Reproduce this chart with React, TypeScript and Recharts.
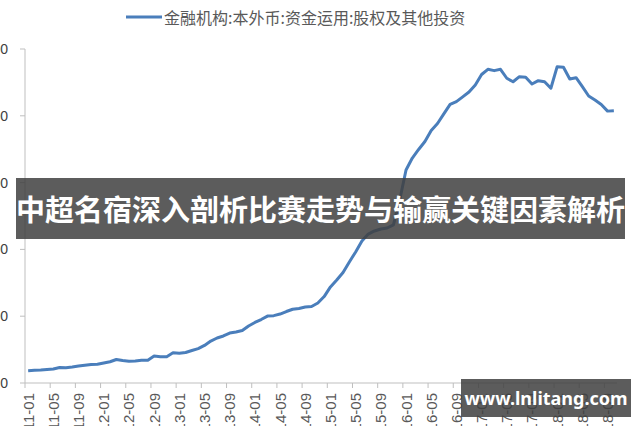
import React from 'react';
import { LineChart, Line, XAxis, YAxis } from 'recharts';

const seriesName = '金融机构:本外币:资金运用:股权及其他投资';

const years = ['2011', '2012', '2013', '2014', '2015', '2016', '2017', '2018'];
const monthNums = ['01', '02', '03', '04', '05', '06', '07', '08', '09', '10', '11', '12'];
// 2011-01 .. 2018-10
const periods = years.flatMap(y => monthNums.map(m => `${y}-${m}`)).slice(0, 94);

const equityInvest = [
  92, 95, 97, 101, 105, 116, 115, 120, 127, 133, 138, 140,
  150, 159, 176, 168, 163, 165, 170, 170, 202, 197, 197, 226,
  222, 228, 243, 257, 281, 314, 337, 352, 374, 382, 393, 427,
  453, 475, 501, 504, 516, 535, 552, 558, 569, 573, 599, 647,
  719, 771, 827, 906, 981, 1063, 1115, 1138, 1153, 1160, 1183, 1370,
  1594, 1684, 1748, 1808, 1890, 1942, 2014, 2085, 2106, 2142, 2178, 2231,
  2309, 2348, 2338, 2348, 2281, 2255, 2293, 2288, 2238, 2263, 2255, 2206,
  2368, 2363, 2275, 2285, 2218, 2148, 2118, 2085, 2035, 2038,
];

const yTicks = [0, 500, 1000, 1500, 2000, 2500];

const data = periods.map((period, i) => ({ period, value: equityInvest[i] }));

const W = 640;
const H = 426;
const MARGIN = { top: 49, right: 23, bottom: 0, left: 0 };
const Y_AXIS_W = 25;
const X_AXIS_H = 43;
const axisY = H - MARGIN.bottom - X_AXIS_H;
const plotW = W - MARGIN.left - MARGIN.right - Y_AXIS_W;
const halfStep = plotW / periods.length / 2;

const LINE_COLOR = '#4a7ebb';
const AXIS_COLOR = '#bfbfbf';
const TEXT_COLOR = '#595959';

const XTick = (props: any) => {
  const { x, payload } = props;
  const ty = axisY + 10;
  return (
    <g>
      <line x1={x - halfStep} x2={x - halfStep} y1={axisY} y2={axisY + 5} stroke={AXIS_COLOR} />
      <text
        x={x}
        y={ty}
        transform={`rotate(-90 ${x} ${ty})`}
        textAnchor="end"
        dominantBaseline="central"
        fontSize={15}
        fontFamily="'Liberation Sans', Arial, sans-serif"
        fill={TEXT_COLOR}
      >
        {payload.value}
      </text>
    </g>
  );
};

const overlayBox = {
  position: 'absolute' as const,
  background: 'rgba(64,64,64,0.85)',
  color: '#fff',
  fontWeight: 'bold' as const,
  textAlign: 'center' as const,
  whiteSpace: 'nowrap' as const,
};

export default function App() {
  return (
    <div
      style={{
        position: 'absolute',
        left: 0,
        top: 0,
        width: W,
        height: H,
        overflow: 'hidden',
        background: '#fff',
      }}
    >
      {/* legend */}
      <div
        style={{
          position: 'absolute',
          left: 126,
          top: 7,
          height: 20,
          display: 'flex',
          alignItems: 'center',
        }}
      >
        <svg width={36} height={6} style={{ marginRight: 2 }}>
          <line x1={0} x2={36} y1={3} y2={3} stroke={LINE_COLOR} strokeWidth={3} />
        </svg>
        <span
          style={{
            fontSize: 16,
            color: TEXT_COLOR,
            fontFamily: "'Noto Sans CJK SC', sans-serif",
            lineHeight: '20px',
            whiteSpace: 'nowrap',
          }}
        >
          {seriesName}
        </span>
      </div>
      <LineChart width={W} height={H} data={data} margin={MARGIN}>
        <XAxis
          dataKey="period"
          interval={3}
          height={X_AXIS_H}
          padding={{ left: halfStep, right: halfStep }}
          axisLine={{ stroke: AXIS_COLOR }}
          tickLine={false}
          tick={<XTick />}
        />
        <YAxis
          width={Y_AXIS_W}
          domain={[0, 2500]}
          ticks={yTicks}
          axisLine={{ stroke: AXIS_COLOR }}
          tickLine={{ stroke: AXIS_COLOR }}
          tickSize={5}
          tickMargin={12}
          tick={{ fontSize: 14, fill: '#404040', fontFamily: "'Liberation Sans', Arial, sans-serif" }}
        />
        <Line
          type="linear"
          dataKey="value"
          name={seriesName}
          stroke={LINE_COLOR}
          strokeWidth={3}
          strokeLinejoin="round"
          dot={false}
          isAnimationActive={false}
        />
      </LineChart>
      <div
        style={{
          ...overlayBox,
          left: 16,
          top: 178,
          width: 609,
          height: 61,
          fontSize: 29,
          fontFamily: "'Noto Sans CJK SC', sans-serif",
          lineHeight: '61px',
        }}
      >
        中超名宿深入剖析比赛走势与输赢关键因素解析
      </div>
      <div
        style={{
          ...overlayBox,
          left: 461,
          top: 379,
          width: 170,
          height: 38,
          fontSize: 18,
          fontFamily: "'Noto Sans', sans-serif",
          lineHeight: '38px',
        }}
      >
        www.lnlitang.com
      </div>
    </div>
  );
}
